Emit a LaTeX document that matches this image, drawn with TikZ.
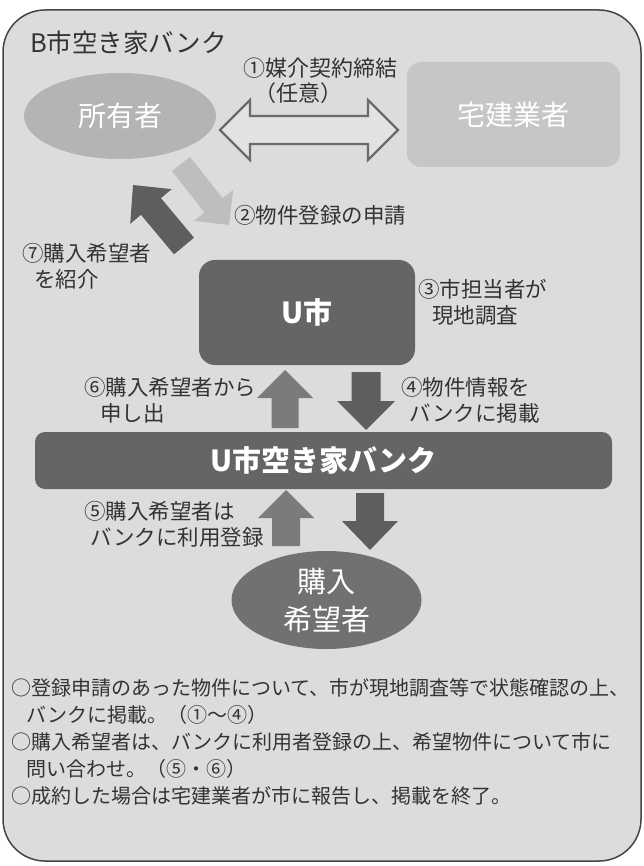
\documentclass[tikz,border=0pt]{standalone}
\usepackage{fontspec}
\setmainfont{Noto Sans CJK JP}
\usetikzlibrary{calc,shapes.geometric}
\definecolor{bg}{HTML}{DBDCDD}
\definecolor{frame}{HTML}{454545}
\definecolor{txt}{HTML}{333333}
\definecolor{owner}{HTML}{B4B4B4}
\definecolor{agent}{HTML}{C6C6C6}
\definecolor{darkbox}{HTML}{656565}
\definecolor{buyer}{HTML}{717171}
\definecolor{lightarr}{HTML}{BEBEBE}
\definecolor{darkarr}{HTML}{5E5E5E}
\definecolor{midarr}{HTML}{7B7B7B}
\definecolor{dblline}{HTML}{6B6B6B}
\definecolor{dblfill}{HTML}{E2E2E2}
\newcommand\blockarr[6]{%
  \coordinate (bah) at ($(#3)!#6!(#2)$);
  \fill[#1] ($(#2)!#4!90:(#3)$) -- ($(bah)!#4!-90:(#2)$) -- ($(bah)!#5!-90:(#2)$) -- (#3)
    -- ($(bah)!#5!90:(#2)$) -- ($(bah)!#4!90:(#2)$) -- ($(#2)!#4!-90:(#3)$) -- cycle;
}
\begin{document}
\begin{tikzpicture}[x=1pt,y=-1pt,
  lbl/.style={font=\fontsize{21.5}{26}\selectfont, text=txt, align=left, inner sep=0pt, anchor=west},
  bigtxt/.style={font=\fontsize{28}{34}\selectfont, text=white},
  boldtxt/.style={font=\bfseries\fontsize{29}{34}\selectfont, text=white}]
\useasboundingbox (0,0) rectangle (644,866);
% frame
\draw[frame, line width=1.5pt, fill=bg, rounded corners=42pt] (3,10) rectangle (641,861);
\node[font=\fontsize{25.5}{30}\selectfont, text=txt, anchor=west, inner sep=0pt] (title) at (30,43) {B市空き家バンク};
% nodes
\node[ellipse, fill=owner, minimum width=192pt, minimum height=86pt, inner sep=0pt, bigtxt] (owner) at (120,116) {所有者};
\node[rounded corners=14pt, fill=agent, minimum width=213pt, minimum height=105pt, inner sep=0pt, bigtxt] (agent) at (513.5,114.5) {宅建業者};
\node[rounded corners=16pt, fill=darkbox, minimum width=216pt, minimum height=105pt, inner sep=0pt, boldtxt] (ucity) at (307,312.5) {U市};
\node[rounded corners=10pt, fill=darkbox, minimum width=577pt, minimum height=57pt, inner sep=0pt, boldtxt] (bank) at (323.5,460.5) {U市空き家バンク};
\node[ellipse, fill=buyer, minimum width=190pt, minimum height=98pt, inner sep=0pt, align=center, font=\fontsize{29}{38}\selectfont, text=white] (buyer) at (326.5,600) {購入\\希望者};
% double arrow
\coordinate (dl) at (220,130);
\coordinate (dr) at (398,130);
\draw[dblline, line width=2.2pt, fill=dblfill, line join=miter]
  (dl) -- ($(dl)+(30,-30)$) -- ($(dl)+(30,-14)$) -- ($(dr)+(-30,-14)$) -- ($(dr)+(-30,-30)$) -- (dr)
  -- ($(dr)+(-30,30)$) -- ($(dr)+(-30,14)$) -- ($(dl)+(30,14)$) -- ($(dl)+(30,30)$) -- cycle;
% diagonal arrows
\coordinate (a2t) at (181,164); \coordinate (a2h) at (229,225);
\coordinate (a7t) at (184,246); \coordinate (a7h) at (133,185);
\blockarr{lightarr}{a2t}{a2h}{11.5pt}{25pt}{25pt}
\blockarr{darkarr}{a7t}{a7h}{13pt}{27pt}{28pt}
% vertical arrows
\coordinate (a6t) at (285,428); \coordinate (a6h) at (285,370);
\coordinate (a4t) at (366,372); \coordinate (a4h) at (366,430);
\coordinate (a5t) at (286,546); \coordinate (a5h) at (286,490);
\coordinate (adt) at (370,493); \coordinate (adh) at (370,550);
\blockarr{midarr}{a6t}{a6h}{13.5pt}{28pt}{28pt}
\blockarr{darkarr}{a4t}{a4h}{14.5pt}{29pt}{29pt}
\blockarr{midarr}{a5t}{a5h}{14pt}{28pt}{28pt}
\blockarr{darkarr}{adt}{adh}{14pt}{28pt}{29pt}
% labels
\node[lbl, font=\fontsize{22}{25}\selectfont] (l1) at (243,80.5) {①媒介契約締結\\\hspace*{0.5em}（任意）};
\node[lbl] (l2) at (234,215) {②物件登録の申請};
\node[lbl] (l3) at (418,302) {③市担当者が\\\hspace*{0.65em}現地調査};
\node[lbl] (l4) at (401,400) {④物件情報を\\\hspace*{0.4em}バンクに掲載};
\node[lbl] (l5) at (84,524) {⑤購入希望者は\\\hspace*{0.3em}バンクに利用登録};
\node[lbl] (l6) at (84,400) {⑥購入希望者から\\\hspace*{0.75em}申し出};
\node[lbl] (l7) at (22,266) {⑦購入希望者\\\hspace*{0.55em}を紹介};
% notes
\node[font=\fontsize{20}{27}\selectfont, text=txt, align=left, inner sep=0pt, anchor=west] (notes) at (11,742) {○登録申請のあった物件について、市が現地調査等で状態確認の上、\\
\hspace*{0.75em}バンクに掲載。（①～④）\\
○購入希望者は、バンクに利用者登録の上、希望物件について市に\\
\hspace*{0.75em}問い合わせ。（⑤・⑥）\\
○成約した場合は宅建業者が市に報告し、掲載を終了。};
\end{tikzpicture}
\end{document}
